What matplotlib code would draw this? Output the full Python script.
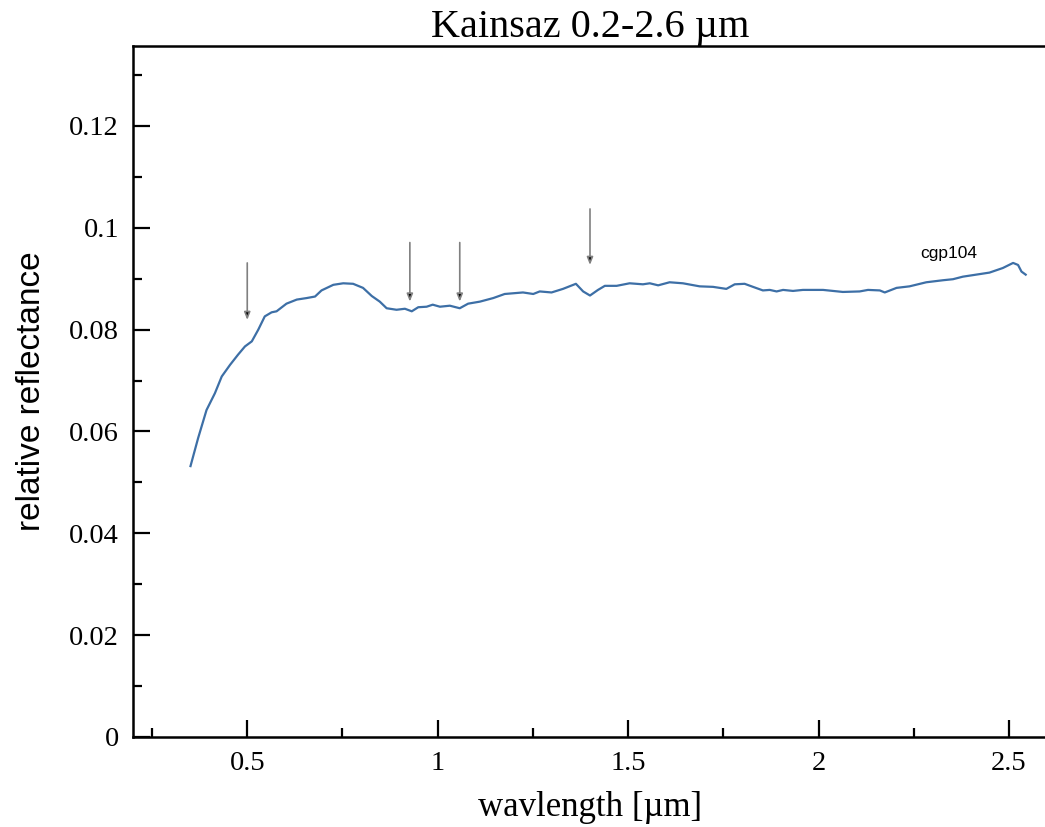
import matplotlib
matplotlib.use("Agg")
import matplotlib.pyplot as plt
from matplotlib.ticker import MultipleLocator, FuncFormatter

# Reflectance spectrum of Kainsaz (sample cgp104)
wavelength = [0.351, 0.371, 0.393, 0.415, 0.433, 0.455, 0.476, 0.494, 0.512, 0.529,
              0.546, 0.564, 0.577, 0.603, 0.630, 0.656, 0.678, 0.695, 0.726, 0.752,
              0.778, 0.804, 0.827, 0.848, 0.866, 0.892, 0.914, 0.932, 0.949, 0.971,
              0.987, 1.006, 1.032, 1.058, 1.080, 1.111, 1.146, 1.176, 1.224, 1.251,
              1.268, 1.299, 1.329, 1.363, 1.382, 1.400, 1.421, 1.439, 1.470, 1.504,
              1.539, 1.557, 1.579, 1.609, 1.644, 1.688, 1.723, 1.758, 1.780, 1.806,
              1.828, 1.854, 1.872, 1.890, 1.907, 1.933, 1.959, 1.999, 2.012, 2.064,
              2.108, 2.130, 2.161, 2.174, 2.205, 2.239, 2.283, 2.327, 2.353, 2.379,
              2.414, 2.449, 2.484, 2.511, 2.524, 2.533, 2.544]
reflectance = [0.0532, 0.0587, 0.0642, 0.0675, 0.0708, 0.0731, 0.0751, 0.0767, 0.0777, 0.0800,
               0.0826, 0.0834, 0.0836, 0.0851, 0.0859, 0.0862, 0.0865, 0.0877, 0.0888, 0.0891,
               0.0890, 0.0882, 0.0866, 0.0855, 0.0842, 0.0839, 0.0841, 0.0836, 0.0844, 0.0845,
               0.0849, 0.0845, 0.0847, 0.0842, 0.0851, 0.0855, 0.0862, 0.0870, 0.0873, 0.0870,
               0.0875, 0.0873, 0.0880, 0.0890, 0.0875, 0.0867, 0.0878, 0.0886, 0.0886, 0.0891,
               0.0889, 0.0891, 0.0887, 0.0893, 0.0891, 0.0885, 0.0884, 0.0880, 0.0889, 0.0890,
               0.0884, 0.0877, 0.0878, 0.0875, 0.0878, 0.0876, 0.0878, 0.0878, 0.0878, 0.0874,
               0.0875, 0.0878, 0.0877, 0.0873, 0.0882, 0.0885, 0.0893, 0.0897, 0.0899, 0.0904,
               0.0908, 0.0912, 0.0921, 0.0931, 0.0927, 0.0914, 0.0908]

# Absorption features marked with arrows: (wavelength, arrow top, arrow tip)
feature_wl = [0.50, 0.927, 1.058, 1.40]
feature_top = [0.0931, 0.0971, 0.0971, 0.1037]
feature_tip = [0.0819, 0.0855, 0.0855, 0.0927]

sample_name = "cgp104"
title_text = "Kainsaz 0.2-2.6 \u00b5m"
xlabel_text = "wavlength [\u00b5m]"
ylabel_text = "relative reflectance"

serif = ["Liberation Serif", "DejaVu Serif"]
sans = ["Liberation Sans", "DejaVu Sans"]

fig = plt.figure(figsize=(10.45, 8.27), dpi=100)
ax = fig.add_axes([133 / 1045, 90 / 827, 914 / 1045, 691 / 827])

ax.plot(wavelength, reflectance, color="#3d6fa6", lw=1.6)

for x, top, tip in zip(feature_wl, feature_top, feature_tip):
    ax.annotate("", xy=(x, tip), xytext=(x, top),
                arrowprops=dict(arrowstyle="-|>,head_length=0.45,head_width=0.18",
                                color="#808080", fc="black", lw=1.2,
                                shrinkA=0, shrinkB=0))

ax.text(2.266, 0.0949, sample_name, fontsize=12.5, family=sans,
        ha="left", va="center", color="black")

ax.set_xlim(0.2, 2.6)
ax.set_ylim(0, 0.1357)

ax.xaxis.set_major_locator(MultipleLocator(0.5))
ax.xaxis.set_minor_locator(MultipleLocator(0.25))
ax.yaxis.set_major_locator(MultipleLocator(0.02))
ax.yaxis.set_minor_locator(MultipleLocator(0.01))
fmt = FuncFormatter(lambda v, p: "%g" % round(v, 4))
ax.xaxis.set_major_formatter(fmt)
ax.yaxis.set_major_formatter(fmt)

ax.tick_params(which="major", direction="in", length=12, width=1.6,
               labelsize=20.5, pad=10, top=False, right=False)
ax.tick_params(which="minor", direction="in", length=6.5, width=1.6,
               top=False, right=False)
for lbl in ax.get_xticklabels() + ax.get_yticklabels():
    lbl.set_family(serif)

for side in ["left", "bottom", "top"]:
    ax.spines[side].set_linewidth(1.8)
ax.spines["right"].set_visible(False)

ax.set_title(title_text, fontsize=29, family=serif, pad=5)
ax.set_xlabel(xlabel_text, fontsize=25, family=serif, labelpad=11)
ax.set_ylabel(ylabel_text, fontsize=24, family=sans, labelpad=16)

fig.savefig("out.png", dpi=100)
